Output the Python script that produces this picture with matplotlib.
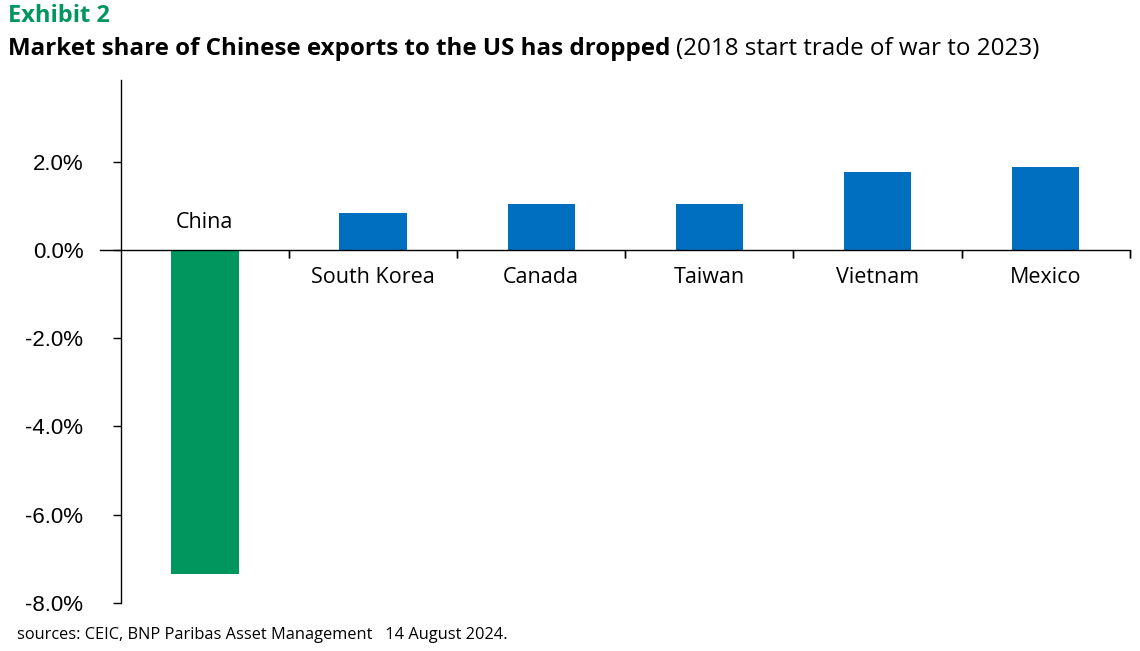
import matplotlib.pyplot as plt
from matplotlib.ticker import FixedLocator, FuncFormatter

# data
pays = ["China", "South Korea", "Canada", "Taiwan", "Vietnam", "Mexico"]
variation = [-7.35, 0.84, 1.05, 1.05, 1.76, 1.88]
couleurs = ["#00965e", "#006fc0", "#006fc0", "#006fc0", "#006fc0", "#006fc0"]
graduations = [2, 0, -2, -4, -6, -8]

vert = "#00965e"

fig = plt.figure(figsize=(11.4, 6.51), dpi=100)
ax = fig.add_axes([0.106, 0.074, 0.885, 0.803])

x = range(len(pays))
ax.bar(x, variation, width=0.4, color=couleurs, zorder=2)

ax.set_xlim(-0.5, len(pays) - 0.5)
ax.set_ylim(-8, 3.85)

# axes style
for cote in ["top", "right", "bottom"]:
    ax.spines[cote].set_visible(False)
ax.spines["left"].set_linewidth(1)
ax.axhline(0, xmin=-0.021, xmax=1, color="black", lw=1, clip_on=False, zorder=3)

ax.yaxis.set_major_locator(FixedLocator(graduations))
ax.yaxis.set_major_formatter(FuncFormatter(lambda v, p: f"{v:.1f}%"))
ax.tick_params(axis="y", length=6, width=1, pad=21, labelsize=16)
for lab in ax.get_yticklabels():
    lab.set_family(["Liberation Sans", "DejaVu Sans"])

# category separators on the zero line
ax.set_xticks([])
for b in [i + 0.5 for i in range(len(pays))]:
    ax.plot([b, b], [0, 0], marker=3, markersize=6, color="black",
            mew=1, clip_on=False, zorder=3)

for i, (nom, val) in enumerate(zip(pays, variation)):
    if val < 0:
        ax.annotate(nom, (i, 0), xytext=(0, 27), textcoords="offset pixels",
                    ha="center", va="center", fontsize=15.5, family="Open Sans")
    else:
        ax.annotate(nom, (i, 0), xytext=(0, -28), textcoords="offset pixels",
                    ha="center", va="center", fontsize=15.5, family="Open Sans")

# titles
fig.text(0.007, 0.975, "Exhibit 2", color=vert, fontsize=17, fontweight="bold",
         family="Open Sans", va="center")
t1 = fig.text(0.007, 0.925, "Market share of Chinese exports to the US has dropped",
              fontsize=17.4, fontweight="bold", family="Open Sans", va="center")
fig.canvas.draw()
bb = t1.get_window_extent()
fig.text(bb.x1 / fig.bbox.width + 0.005, 0.925, "(2018 start trade of war to 2023)",
         fontsize=17.4, family="Open Sans", va="center")

fig.text(0.015, 0.024, "sources: CEIC, BNP Paribas Asset Management   14 August 2024.",
         fontsize=11.8, family="Open Sans", va="center")

fig.savefig("out.png", dpi=100)
